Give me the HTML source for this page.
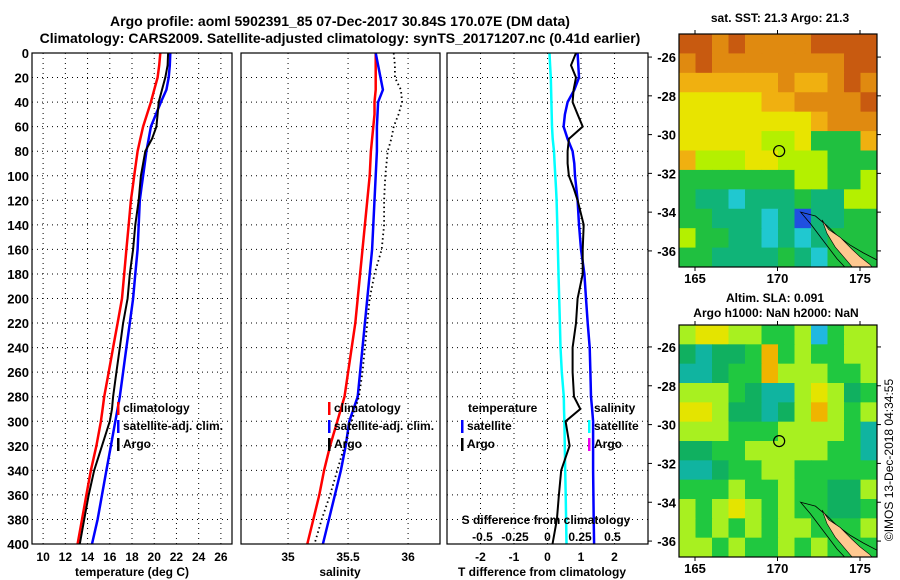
<!DOCTYPE html>
<html><head><meta charset="utf-8"><style>
html,body{margin:0;padding:0;background:#fff;}
svg{display:block;font-family:"Liberation Sans",Arial,sans-serif;font-weight:bold;}
</style></head><body>
<svg id="s" width="900" height="580" viewBox="0 0 900 580" xmlns="http://www.w3.org/2000/svg">
<defs>
<clipPath id="c1"><rect x="679" y="34" width="198" height="233"/></clipPath>
<clipPath id="c2"><rect x="679" y="325" width="198" height="232"/></clipPath>
</defs>
<text x="340" y="26" font-size="14" text-anchor="middle">Argo profile: aoml 5902391_85 07-Dec-2017 30.84S 170.07E (DM data)</text>
<text x="340" y="43" font-size="14" text-anchor="middle">Climatology: CARS2009. Satellite-adjusted climatology: synTS_20171207.nc (0.41d earlier)</text>
<text x="780" y="22" font-size="12" text-anchor="middle">sat. SST: 21.3 Argo: 21.3</text>
<text x="775" y="302" font-size="12" text-anchor="middle">Altim. SLA: 0.091</text>
<text x="776" y="317" font-size="12" text-anchor="middle">Argo h1000: NaN h2000: NaN</text>
<text transform="translate(893,460) rotate(-90)" font-size="12" font-weight="normal" text-anchor="middle">©IMOS 13-Dec-2018 04:34:55</text>
<g id="g"></g>
</svg>
<script>
const depths=[0,10,20,30,40,50,60,70,80,90,100,110,120,140,160,180,200,220,240,260,280,290,300,320,340,360,380,400];
const tClim=[20.55,20.45,20.3,20.0,19.7,19.35,19.0,18.75,18.5,18.35,18.2,18.05,17.9,17.7,17.5,17.3,17.1,16.7,16.3,15.9,15.5,15.35,15.2,14.8,14.3,13.9,13.5,13.1];
const tSat=[21.45,21.4,21.3,21.1,20.6,20.15,19.7,19.5,19.3,19.15,19.0,18.85,18.7,18.6,18.5,18.3,18.1,17.8,17.5,17.2,16.9,16.7,16.5,16.1,15.7,15.3,14.9,14.4];
const tArgo=[21.25,21.2,21.0,20.7,20.4,20.3,20.2,19.8,19.2,19.0,18.8,18.7,18.6,18.3,18.1,17.8,17.6,17.2,16.9,16.6,16.3,16.2,16.0,15.3,14.6,14.1,13.7,13.3];
const sClim=[35.73,35.73,35.73,35.73,35.72,35.72,35.71,35.70,35.69,35.685,35.68,35.67,35.66,35.64,35.62,35.60,35.58,35.56,35.53,35.50,35.47,35.44,35.41,35.35,35.30,35.26,35.21,35.16];
const sSat=[35.73,35.75,35.77,35.79,35.75,35.745,35.74,35.74,35.74,35.735,35.73,35.725,35.72,35.71,35.70,35.68,35.66,35.64,35.62,35.60,35.58,35.545,35.51,35.48,35.44,35.39,35.34,35.29];
const sArgo=[35.88,35.89,35.89,35.94,35.95,35.92,35.88,35.86,35.83,35.82,35.81,35.805,35.80,35.80,35.78,35.72,35.68,35.66,35.64,35.62,35.59,35.56,35.53,35.47,35.41,35.35,35.28,35.22];
const dTSat=[0.9,0.92,0.94,0.8,0.6,0.52,0.48,0.6,0.75,0.8,0.82,0.86,0.9,0.94,1.0,1.1,1.15,1.2,1.26,1.28,1.3,1.33,1.36,1.36,1.36,1.37,1.38,1.39];
const dTArgo=[0.85,0.7,0.85,0.78,0.75,0.9,1.05,0.64,0.6,0.6,0.64,0.78,0.9,1.08,1.05,1.05,0.9,0.85,0.75,0.75,0.79,0.98,0.54,0.66,0.41,0.34,0.28,0.15];
const dSSat=[0.015,0.02,0.025,0.028,0.03,0.032,0.035,0.04,0.05,0.055,0.06,0.065,0.07,0.075,0.08,0.085,0.09,0.095,0.1,0.11,0.125,0.127,0.13,0.133,0.136,0.14,0.143,0.146];
const depthTicks=[0,20,40,60,80,100,120,140,160,180,200,220,240,260,280,300,320,340,360,380,400];
const tTicks=[10,12,14,16,18,20,22,24,26];
const sTicks=[35,35.5,36];
const dTTicks=[-2,-1,0,1,2];
const dSTicks=["-0.5","-0.25","0","0.25","0.5"];
const lonTicks=[165,170,175];
const latTicks=[-26,-28,-30,-32,-34,-36];
const sstGrid=["RROROOOORRRR","OROOOOOOOORR","AAAAAAOAAORO","YYYYYAAOOOOR","YYYYYYYYAOOO","YYYYYLLYGGGA","ALLLYYLLLGGG","GGGGGGGLLGGL","GTTCTTTGTTLL","GGTTTCTBTTGG","LGGTTCTCTGGG","GGTTTTGTCGGG"];
const slaGrid=["LYYLLGGLCGLL","DTDDGOGLGGLL","TTDGGOLLLGGL","LLLGDTTLYLDG","YYLDDTDLOLGL","LLLGGGLLLLGT","DDGGLLLLLGGT","TTDGGLLGGGGG","GGGLGGLGGDDL","LGLYLGLGGDDG","LGLGLGLLGGGL","LLGLGGLGLGGG"];
const profileLat=-30.85, profileLon=170.1;

const NS="http://www.w3.org/2000/svg";
const G=document.getElementById('g');
function el(t,a,p){const e=document.createElementNS(NS,t);for(const k in a)e.setAttribute(k,a[k]);(p||G).appendChild(e);return e;}
const Y0=53,Y1=544;
function yD(d){return Y0+(d/400)*(Y1-Y0);}
const panels=[{x0:32,x1:232,v0:9,v1:27},{x0:241,x1:440,v0:34.608,v1:36.266},{x0:447,x1:648,v0:-3,v1:3}];
function sx(p,v){return p.x0+(v-p.v0)/(p.v1-p.v0)*(p.x1-p.x0);}
function dsx(v){return 547.5+v*130;}

panels.forEach((p,i)=>{
  depthTicks.forEach(d=>{const l=el('line',{x1:p.x0,x2:p.x1,y1:yD(d),y2:yD(d),stroke:'#000','stroke-width':1,'stroke-dasharray':'1,4'});
  
  });
  const ticks=i==0?tTicks:(i==1?sTicks:dTTicks);
  ticks.forEach(t=>{const x=sx(p,t);const l=el('line',{x1:x,x2:x,y1:Y0,y2:Y1,stroke:'#000','stroke-width':1,'stroke-dasharray':'1,4'});
  
  
  const tx=el('text',{x:x,y:561,'font-size':12,'text-anchor':'middle'});tx.textContent=t;
  
  });
});
depthTicks.forEach(d=>{const t=el('text',{x:29,y:yD(d)+5,'font-size':13,'text-anchor':'end'});t.textContent=d;

});

function line(xs,col,w,dash,name){const pts=depths.map((d,i)=>xs[i].toFixed(1)+','+yD(d).toFixed(1)).join(' ');
const a={points:pts,fill:'none',stroke:col,'stroke-width':w};if(dash)a['stroke-dasharray']=dash;const e=el('polyline',a);

}
const P1=panels[0],P2=panels[1],P3=panels[2];
line(tClim.map(v=>sx(P1,v)),'#f00',2.5,null,'temp-climatology-line');
line(tSat.map(v=>sx(P1,v)),'#00f',2.5,null,'temp-satellite-line');
line(tArgo.map(v=>sx(P1,v)),'#000',2,null,'temp-argo-line');
line(sClim.map(v=>sx(P2,v)),'#f00',2.5,null,'sal-climatology-line');
line(sSat.map(v=>sx(P2,v)),'#00f',2.5,null,'sal-satellite-line');
line(sArgo.map(v=>sx(P2,v)),'#000',1.8,'1.5,3','sal-argo-line');
line(dSSat.map(v=>dsx(v)),'#0ff',2.5,null,'sdiff-satellite-line');
line(dTSat.map(v=>sx(P3,v)),'#00f',2.5,null,'tdiff-satellite-line');
line(dTArgo.map(v=>sx(P3,v)),'#000',2,null,'tdiff-argo-line');

panels.forEach(p=>{const r=el('rect',{x:p.x0,y:Y0,width:p.x1-p.x0,height:Y1-Y0,fill:'none',stroke:'#000','stroke-width':1.2});

});

function txt(x,y,s,size,anchor,name){const t=el('text',{x:x,y:y,'font-size':size,'text-anchor':anchor||'start'});t.textContent=s;

return t;}
txt(132,576,'temperature (deg C)',12,'middle','x-axis-title-temperature');
txt(340,576,'salinity',12,'middle','x-axis-title-salinity');
txt(542,576,'T difference from climatology',12,'middle','x-axis-title-tdiff');
txt(546,524,'S difference from climatology',12,'middle','sdiff-axis-title');
dSTicks.forEach(s=>{txt(dsx(parseFloat(s)),541,s,12,'middle','sdiff-tick-label');});

function leg(x,y,col,s,name){const r=el('rect',{x:x,y:y-10,width:2.5,height:13,fill:col});


txt(x+6,y,s,12,'start',name);}
leg(117,412,'#f00','climatology','legend-climatology');
leg(117,430,'#00f','satellite-adj. clim.','legend-satellite-adj');
leg(117,448,'#000','Argo','legend-argo');
leg(328,412,'#f00','climatology','legend2-climatology');
leg(328,430,'#00f','satellite-adj. clim.','legend2-satellite-adj');
leg(328,448,'#000','Argo','legend2-argo');
txt(468,412,'temperature',12,'start','legend3-temperature-header');
leg(461,430,'#00f','satellite','legend3-t-satellite');
leg(461,448,'#000','Argo','legend3-t-argo');
txt(594,412,'salinity',12,'start','legend3-salinity-header');
leg(588,430,'#0ff','satellite','legend3-s-satellite');
leg(588,448,'#e0e','Argo','legend3-s-argo');

const sstCol={R:'#c85a10',O:'#e08a10',A:'#f0b010',Y:'#e8e400',L:'#b4f000',G:'#20c040',T:'#10b478',C:'#20c8d0',B:'#2050e0'};
const slaCol={G:'#20c840',D:'#10b060',T:'#10b4a0',L:'#a8f020',Y:'#e4e400',O:'#f0b400',C:'#20b8e0'};
function drawMap(grid,cols,mx0,my0,mx1,my1,latTop,latBot,name,clip){
  const lonL=164.03,lonR=176.03;
  const lx=lon=>mx0+(lon-lonL)/(lonR-lonL)*(mx1-mx0);
  const ly=lat=>my0+(latTop-lat)/(latTop-latBot)*(my1-my0);
  const g=el('g',{'clip-path':'url(#'+clip+')'});
  
  
  const nr=grid.length,nc=grid[0].length,cw=(mx1-mx0)/nc,ch=(my1-my0)/nr;
  grid.forEach((row,r)=>{for(let c=0;c<nc;c++){const e=el('rect',{x:mx0+c*cw,y:my0+r*ch,width:cw+0.6,height:ch+0.6,fill:cols[row[c]]},g);
  
  }});
  const shelf=[[171.4,-34.0],[172.3,-34.2],[173.0,-34.7],[173.6,-35.2],[174.4,-35.7],[175.2,-36.1],[176.1,-36.5],[176.1,-37.3],[174.6,-37.3],[173.6,-36.4],[172.8,-35.5],[172.0,-34.6]];
  const land=[[172.7,-34.4],[173.1,-34.9],[173.8,-35.3],[174.5,-35.9],[175.0,-36.3],[175.6,-36.7],[176.0,-37.1],[174.8,-37.1],[174.2,-36.5],[173.5,-35.8],[173.0,-35.1]];
  const e1=el('polygon',{points:shelf.map(p=>lx(p[0])+','+ly(p[1])).join(' '),fill:'none',stroke:'#000','stroke-width':0.8},g);
  
  
  const e2=el('polygon',{points:land.map(p=>lx(p[0])+','+ly(p[1])).join(' '),fill:'#ffc890',stroke:'#000','stroke-width':0.6},g);
  
  
  const ci=el('circle',{cx:lx(profileLon),cy:ly(profileLat),r:5.5,fill:'none',stroke:'#000','stroke-width':1.2});
  
  
  const fr=el('rect',{x:mx0,y:my0,width:mx1-mx0,height:my1-my0,fill:'none',stroke:'#000','stroke-width':1.2});
  
  
  lonTicks.forEach(l=>{const x=lx(l);el('line',{x1:x,x2:x,y1:my0-4,y2:my0,stroke:'#000'});el('line',{x1:x,x2:x,y1:my1,y2:my1+4,stroke:'#000'});
    txt(x,my1+16,String(l),13,'middle',name+'-lon-label');});
  latTicks.forEach(l=>{const y=ly(l);el('line',{x1:mx1,x2:mx1+4,y1:y,y2:y,stroke:'#000'});el('line',{x1:648,x2:652,y1:y,y2:y,stroke:'#000'});
    txt(676,y+5,String(l),13,'end',name+'-lat-label');});
}
drawMap(sstGrid,sstCol,679,34,877,267,-24.81,-36.83,'sst-map','c1');
drawMap(slaGrid,slaCol,679,325,877,557,-24.87,-36.82,'sla-map','c2');
</script>
</body></html>
